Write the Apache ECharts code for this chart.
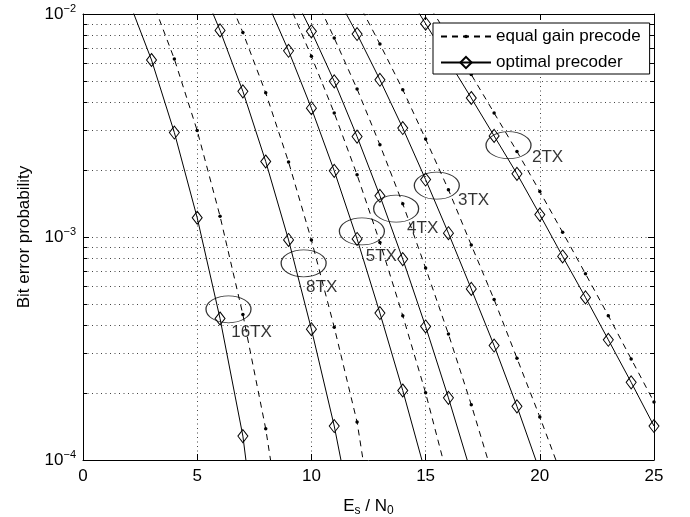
<!DOCTYPE html>
<html>
<head>
<meta charset="utf-8">
<script src="https://cdn.jsdelivr.net/npm/echarts@6/dist/echarts.min.js"></script>
<style>
  html, body { margin: 0; padding: 0; background: #fff; }
  #chart { width: 690px; height: 517px; }
</style>
</head>
<body>
<div id="chart"></div>
<script>
// BER vs Es/N0 (dB), one pair of curves per number of TX antennas
// opt = optimal precoder (solid, diamonds), egc = equal gain precode (dashed, dots)
const opt16 = [[2,1.15e-2],[3,6.22e-3],[4,2.94e-3],[5,1.22e-3],[6,4.31e-4],[7,1.28e-4],[8,2.0e-5]];
const egc16 = [[3,1.17e-2],[4,6.28e-3],[5,3.0e-3],[6,1.24e-3],[7,4.49e-4],[8,1.38e-4],[9,3.0e-5]];
const opt8  = [[5,1.48e-2],[6,8.44e-3],[7,4.5e-3],[8,2.18e-3],[9,9.7e-4],[10,3.86e-4],[11,1.42e-4],[12,4.3e-5]];
const egc8  = [[6,1.45e-2],[7,8.26e-3],[8,4.43e-3],[9,2.17e-3],[10,9.7e-4],[11,3.94e-4],[12,1.48e-4],[13,3.3e-5]];
const opt5  = [[8,1.17e-2],[9,6.84e-3],[10,3.78e-3],[11,1.98e-3],[12,9.8e-4],[13,4.56e-4],[14,2.05e-4],[15,8.7e-5]];
const egc5  = [[9,1.12e-2],[10,6.46e-3],[11,3.6e-3],[12,1.9e-3],[13,9.46e-4],[14,4.44e-4],[15,2.0e-4],[16,8.1e-5]];
const opt4  = [[9,1.35e-2],[10,8.36e-3],[11,4.99e-3],[12,2.82e-3],[13,1.53e-3],[14,7.96e-4],[15,3.97e-4],[16,1.9e-4],[17,8.7e-5]];
const egc4  = [[10,1.29e-2],[11,7.8e-3],[12,4.61e-3],[13,2.59e-3],[14,1.41e-3],[15,7.26e-4],[16,3.67e-4],[17,1.77e-4],[18,8.1e-5]];
const opt3  = [[11,1.26e-2],[12,8.13e-3],[13,5.07e-3],[14,3.08e-3],[15,1.81e-3],[16,1.04e-3],[17,5.85e-4],[18,3.26e-4],[19,1.74e-4],[20,8.9e-5]];
const egc3  = [[12,1.15e-2],[13,7.33e-3],[14,4.58e-3],[15,2.75e-3],[16,1.63e-3],[17,9.2e-4],[18,5.24e-4],[19,2.86e-4],[20,1.56e-4],[21,8.3e-5]];
const opt2  = [[14,1.32e-2],[15,9.05e-3],[16,6.17e-3],[17,4.2e-3],[18,2.84e-3],[19,1.92e-3],[20,1.26e-3],[21,8.18e-4],[22,5.36e-4],[23,3.46e-4],[24,2.23e-4],[25,1.42e-4]];
const egc2  = [[15,1.15e-2],[16,7.94e-3],[17,5.35e-3],[18,3.6e-3],[19,2.42e-3],[20,1.6e-3],[21,1.05e-3],[22,6.84e-4],[23,4.44e-4],[24,2.84e-4],[25,1.82e-4]];

// annotation rings and their labels (data coordinates)
const ringNames = ['16TX', '8TX', '5TX', '4TX', '3TX', '2TX'];
const ringAt    = [[6.37,4.74e-4],[9.66,7.62e-4],[12.21,1.06e-3],[13.71,1.34e-3],[15.49,1.70e-3],[18.63,2.58e-3]];
const labelAt   = [[7.38,3.72e-4],[10.45,5.93e-4],[13.06,8.17e-4],[14.87,1.09e-3],[17.1,1.46e-3],[20.34,2.27e-3]];

const NAME_OPT = 'optimal precoder';
const NAME_EGC = 'equal gain precode';
const FONT = '"Liberation Sans", Arial, sans-serif';
const DOTTED = { color: '#444', width: 1, type: [1, 3.5] };
const LEGEND_TEXT = { fontFamily: FONT, fontSize: 17, color: '#000' };

const chart = echarts.init(document.getElementById('chart'));

function optSeries(d) {
  return {
    name: NAME_OPT, type: 'line', data: d, clip: true, z: 3,
    symbol: 'diamond', symbolSize: [10, 13],
    lineStyle: { color: '#000', width: 1 },
    itemStyle: { color: 'rgba(255,255,255,0)', borderColor: '#000', borderWidth: 1 },
    emphasis: { disabled: true }
  };
}
function egcSeries(d) {
  return {
    name: NAME_EGC, type: 'line', data: d, clip: true, z: 3,
    symbol: 'circle', symbolSize: 3.5,
    lineStyle: { color: '#000', width: 1, type: [6, 5] },
    itemStyle: { color: '#000' },
    emphasis: { disabled: true }
  };
}

const expo = v => String(Math.round(Math.log10(v))).replace('-', '\u2212');

chart.setOption({
  animation: false,
  textStyle: { fontFamily: FONT },
  grid: { left: 83, right: 36, top: 14, bottom: 57, outerBoundsMode: 'none' },
  // two legends so each row gets its own marker size; the first one carries the frame
  legend: [{
    data: [NAME_EGC],
    orient: 'vertical', left: 433, top: 23,
    itemWidth: 50, itemHeight: 4.5,
    padding: [5, 9, 29, 7],
    backgroundColor: '#fff', borderColor: '#000', borderWidth: 1,
    selectedMode: false, z: 5,
    textStyle: LEGEND_TEXT
  }, {
    data: [NAME_OPT],
    orient: 'vertical', left: 440, top: 54,
    itemWidth: 50, itemHeight: 14,
    padding: 0,
    selectedMode: false, z: 6,
    textStyle: LEGEND_TEXT
  }],
  xAxis: [{
    type: 'value', min: 0, max: 25, interval: 5,
    name: '{a|E}{s|s}{a| / N}{s|0}', nameLocation: 'middle', nameGap: 35,
    nameTextStyle: { rich: {
      a: { fontFamily: FONT, fontSize: 17, color: '#000', lineHeight: 22 },
      s: { fontFamily: FONT, fontSize: 12, color: '#000', lineHeight: 12, padding: [10, 0, 0, 0] }
    }},
    axisLine: { show: true, onZero: false, lineStyle: { color: '#000' } },
    axisTick: { show: true, inside: true, length: 6, lineStyle: { color: '#000' } },
    axisLabel: { margin: 8, color: '#000', fontSize: 17, fontFamily: FONT },
    splitLine: { show: true, lineStyle: DOTTED }
  }, {
    type: 'value', position: 'top', min: 0, max: 25, interval: 5,
    axisLine: { show: true, onZero: false, lineStyle: { color: '#000' } },
    axisTick: { show: true, inside: true, length: 6, lineStyle: { color: '#000' } },
    axisLabel: { show: false }, splitLine: { show: false }
  }],
  yAxis: [{
    type: 'log', logBase: 10, min: 1e-4, max: 1e-2,
    name: 'Bit error probability', nameLocation: 'middle', nameGap: 50,
    nameTextStyle: { fontFamily: FONT, fontSize: 17, color: '#000' },
    axisLine: { show: true, onZero: false, lineStyle: { color: '#000' } },
    axisTick: { show: true, inside: true, length: 6, lineStyle: { color: '#000' } },
    minorTick: { show: true, splitNumber: 9, length: 4, lineStyle: { color: '#000' } },
    axisLabel: {
      margin: 7,
      formatter: v => '{a|10}{e|' + expo(v) + '}',
      rich: {
        a: { fontFamily: FONT, fontSize: 17, color: '#000', lineHeight: 20 },
        e: { fontFamily: FONT, fontSize: 11, color: '#000', lineHeight: 11, padding: [0, 0, 10, 0] }
      }
    },
    splitLine: { show: true, lineStyle: DOTTED },
    minorSplitLine: { show: true, lineStyle: DOTTED }
  }, {
    type: 'log', logBase: 10, min: 1e-4, max: 1e-2, position: 'right',
    axisLine: { show: true, onZero: false, lineStyle: { color: '#000' } },
    axisTick: { show: true, inside: true, length: 6, lineStyle: { color: '#000' } },
    minorTick: { show: true, splitNumber: 9, length: 4, lineStyle: { color: '#000' } },
    axisLabel: { show: false }, splitLine: { show: false }, minorSplitLine: { show: false }
  }],
  series: [
    egcSeries(egc16), optSeries(opt16),
    egcSeries(egc8),  optSeries(opt8),
    egcSeries(egc5),  optSeries(opt5),
    egcSeries(egc4),  optSeries(opt4),
    egcSeries(egc3),  optSeries(opt3),
    egcSeries(egc2),  optSeries(opt2),
    {
      name: 'rings', type: 'scatter', silent: true, z: 4,
      data: ringAt, symbol: 'circle', symbolSize: [45, 27],
      itemStyle: { color: 'rgba(255,255,255,0)', borderColor: '#000', borderWidth: 1 }
    },
    {
      name: 'ring labels', type: 'scatter', silent: true, z: 4,
      data: labelAt.map((p, i) => ({ value: p, name: ringNames[i] })),
      symbolSize: 1, itemStyle: { color: 'rgba(0,0,0,0)' },
      label: { show: true, position: 'inside', formatter: '{b}', color: '#000', fontSize: 17, fontFamily: FONT }
    }
  ]
});
</script>
</body>
</html>
